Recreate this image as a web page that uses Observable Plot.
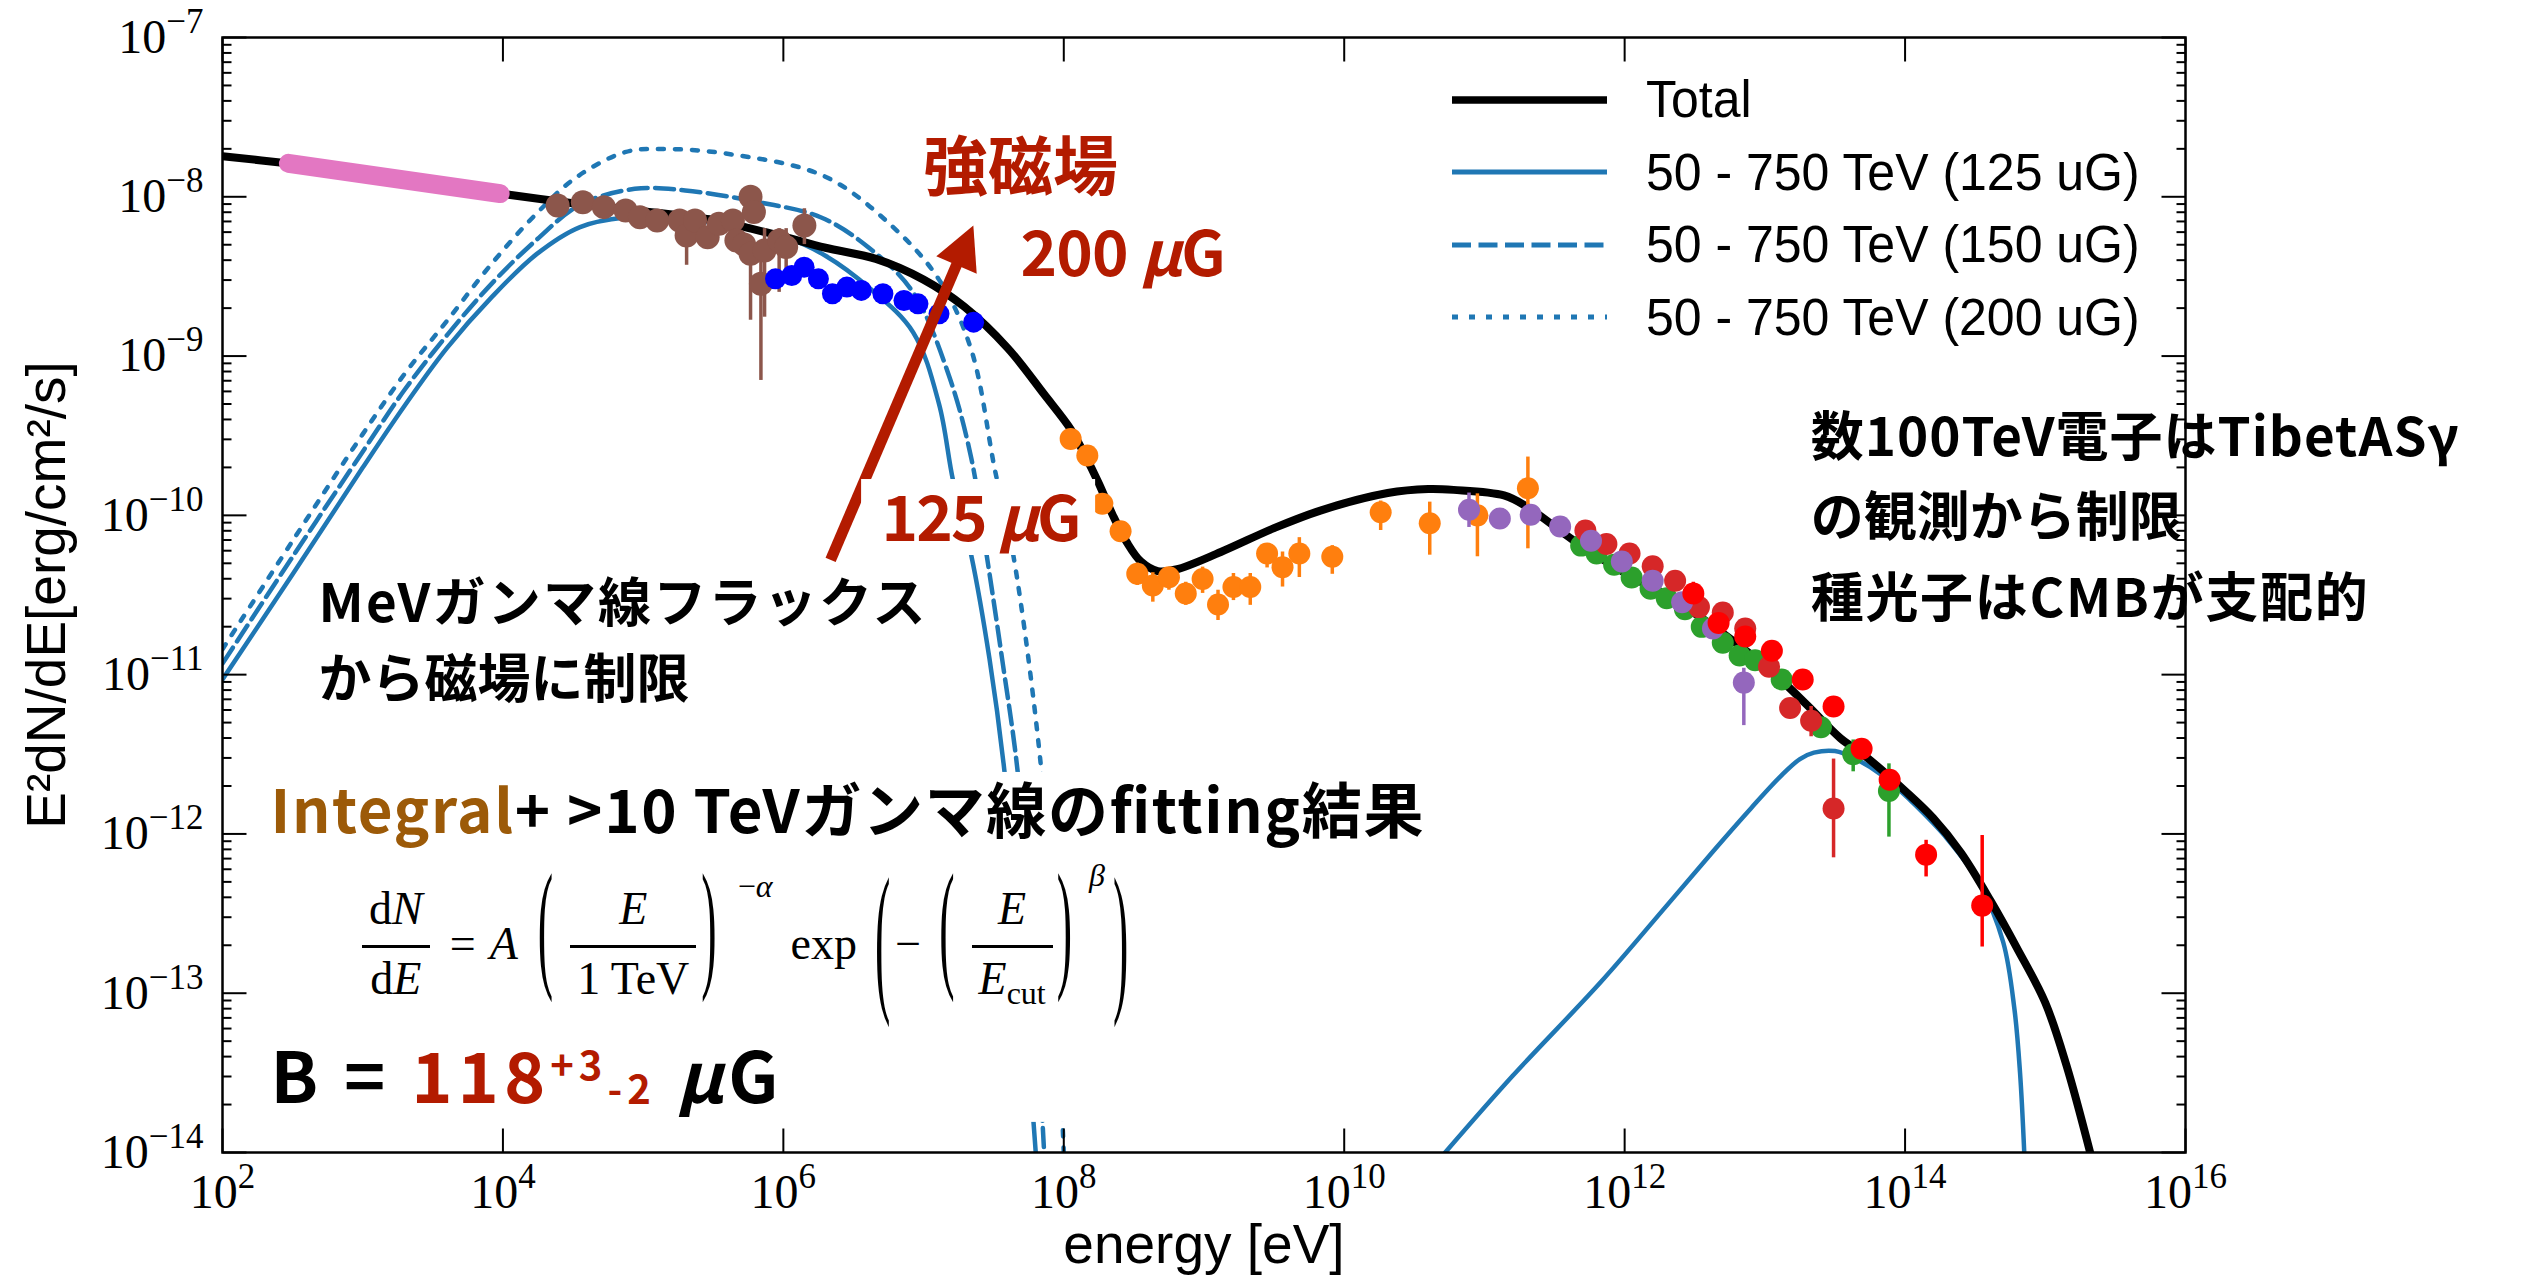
<!DOCTYPE html>
<html><head><meta charset="utf-8">
<script src="https://cdn.jsdelivr.net/npm/d3@7"></script>
<script src="https://cdn.jsdelivr.net/npm/@observablehq/plot@0.6"></script>
<style>
html,body{margin:0;padding:0;background:#fff;}
#wrap{position:relative;width:2525px;height:1281px;overflow:hidden;background:#fff;}
.leg{position:absolute;font-family:"Liberation Sans",Arial,sans-serif;font-size:51px;color:#000;}
.leg .row{position:absolute;left:0;height:72px;display:flex;align-items:center;white-space:nowrap;}
.leg svg{display:block;}
.leg span{display:inline-block;transform-origin:left center;transform:scaleX(0.98);margin-left:39px;}
.eq{position:absolute;display:flex;align-items:center;font-family:"Liberation Serif",serif;font-size:46px;line-height:1;white-space:nowrap;color:#000;}
.eq .fr{display:inline-flex;flex-direction:column;align-items:center;}
.eq .fr>span{display:block;padding:0 7px;}
.eq .fr .bar{align-self:stretch;height:3px;background:#000;margin:13px 0 8px;padding:0;}
.eq .p{display:inline-block;transform:translateY(-19px) scaleY(3.1);}
.eq .P{display:inline-block;transform:translateY(-6px) scaleY(3.6);}
.eq .sup{font-size:32px;position:relative;}
.eq .cut{font-size:32px;position:relative;top:10px;}
</style></head>
<body><div id="wrap"></div>
<script>
// ---------------- DATA (log10 units: [log10 E/eV, log10 E^2dN/dE]) ----------------
const totalModel = [[2.0,-7.745],[2.46,-7.79],[3.0,-7.85],[3.5,-7.92],[3.98,-7.98],[4.5,-8.04],[5.0,-8.09],[5.5,-8.145],[5.77,-8.20],[6.0,-8.25],[6.3,-8.32],[6.66,-8.39],[7.0,-8.52],[7.29,-8.69],[7.6,-8.95],[7.86,-9.24],[8.05,-9.46],[8.15,-9.62],[8.25,-9.80],[8.35,-10.0],[8.45,-10.17],[8.55,-10.29],[8.67,-10.35],[8.8,-10.34],[9.12,-10.23],[9.5,-10.08],[9.83,-9.97],[10.31,-9.86],[10.6,-9.835],[10.78,-9.84],[11.14,-9.875],[11.31,-9.95],[11.64,-10.16],[12.0,-10.36],[12.35,-10.53],[12.7,-10.74],[13.06,-10.99],[13.3,-11.19],[13.54,-11.40],[13.7,-11.50],[14.0,-11.73],[14.2,-11.90],[14.4,-12.12],[14.61,-12.42],[14.8,-12.72],[15.0,-13.06],[15.15,-13.45],[15.32,-14.0]];
const sync125uG = [[2.0,-11.03],[2.5,-10.37],[3.0,-9.70],[3.3,-9.31],[3.6,-8.95],[3.92,-8.63],[4.24,-8.36],[4.55,-8.19],[4.87,-8.13],[5.2,-8.13],[5.6,-8.18],[6.03,-8.26],[6.3,-8.37],[6.61,-8.57],[6.925,-8.85],[7.11,-9.30],[7.21,-9.78],[7.34,-10.25],[7.47,-10.90],[7.576,-11.6],[7.68,-12.6],[7.80,-14.0]];
const sync150uG = [[2.0,-10.93],[2.5,-10.26],[3.0,-9.60],[3.3,-9.21],[3.6,-8.87],[3.92,-8.545],[4.24,-8.27],[4.55,-8.05],[4.94,-7.95],[5.3,-7.96],[5.8,-8.03],[6.27,-8.13],[6.61,-8.32],[6.925,-8.60],[7.18,-9.12],[7.34,-9.64],[7.45,-10.25],[7.56,-10.9],[7.67,-11.6],[7.77,-12.65],[7.86,-14.0]];
const sync200uG = [[2.0,-10.84],[2.5,-10.16],[3.0,-9.49],[3.3,-9.11],[3.6,-8.78],[3.92,-8.42],[4.24,-8.105],[4.52,-7.88],[4.87,-7.72],[5.13,-7.70],[5.6,-7.73],[6.29,-7.87],[6.77,-8.18],[7.11,-8.52],[7.34,-8.96],[7.51,-9.72],[7.64,-10.25],[7.84,-11.6],[7.93,-12.7],[8.0,-14.0]];
const ic125uG = [[10.72,-14.0],[11.2,-13.52],[11.83,-12.93],[12.3,-12.45],[12.63,-12.11],[12.9,-11.84],[13.11,-11.64],[13.25,-11.53],[13.35,-11.49],[13.5,-11.48],[13.65,-11.53],[13.85,-11.64],[14.05,-11.80],[14.3,-12.03],[14.53,-12.31],[14.7,-12.68],[14.78,-13.1],[14.82,-13.5],[14.85,-14.0]];
const integralFit = [[2.47,-7.79],[3.98,-7.98]];
// points: [log10 E, log10 F, log10 errLow, log10 errHigh]
const brownPts = [[4.39,-8.055],[4.57,-8.034],[4.72,-8.065],[4.875,-8.086],[4.977,-8.128],[5.10,-8.149],[5.26,-8.149],[5.31,-8.243,-8.43,-8.10],[5.37,-8.149],[5.46,-8.254],[5.54,-8.17],[5.64,-8.149],[5.665,-8.274],[5.72,-8.30],[5.766,-8.0,-8.08,-7.95],[5.79,-8.096],[5.766,-8.358,-8.775,-8.274],[5.84,-8.546,-9.153,-8.35],[5.866,-8.337,-8.756,-8.2],[5.97,-8.274,-8.6,-8.2],[6.02,-8.316,-8.45,-8.2],[6.15,-8.18,-8.30,-8.075]];
const bluePts = [[5.944,-8.515],[6.06,-8.494],[6.148,-8.442],[6.25,-8.515],[6.35,-8.609],[6.453,-8.567],[6.556,-8.588],[6.71,-8.609],[6.86,-8.651],[6.96,-8.672],[7.11,-8.735],[7.357,-8.787]];
const orangePts = [[8.049,-9.52],[8.168,-9.624],[8.275,-9.927],[8.405,-10.10],[8.524,-10.367,-10.44,-10.30],[8.635,-10.44,-10.545,-10.36],[8.75,-10.388,-10.47,-10.346],[8.87,-10.49,-10.565,-10.42],[8.99,-10.40,-10.49,-10.325],[9.10,-10.56,-10.66,-10.47],[9.21,-10.45,-10.535,-10.365],[9.33,-10.45,-10.565,-10.365],[9.45,-10.24,-10.33,-10.18],[9.56,-10.325,-10.45,-10.23],[9.68,-10.24,-10.39,-10.14],[9.915,-10.26,-10.37,-10.19],[10.26,-9.98,-10.095,-9.91],[10.61,-10.05,-10.25,-9.917],[10.95,-10.0,-10.26,-9.865],[11.31,-9.83,-10.21,-9.634]];
const purplePts = [[10.89,-9.965,-10.076,-9.86],[11.11,-10.02],[11.33,-9.996],[11.54,-10.07],[11.76,-10.16],[11.98,-10.29],[12.20,-10.41],[12.41,-10.545],[12.63,-10.71],[12.85,-11.05,-11.32,-10.96]];
const greenPts = [[11.69,-10.19],[11.80,-10.24],[11.925,-10.31],[12.05,-10.39],[12.185,-10.46],[12.30,-10.52],[12.43,-10.59],[12.55,-10.70],[12.70,-10.80],[12.82,-10.88],[12.93,-10.91],[13.12,-11.03],[13.40,-11.33],[13.63,-11.50,-11.61,-11.41],[13.885,-11.73,-12.02,-11.56]];
const darkRedPts = [[11.72,-10.095],[11.87,-10.18],[12.035,-10.24],[12.20,-10.32],[12.36,-10.41],[12.53,-10.576],[12.70,-10.61],[12.86,-10.71],[13.03,-10.95],[13.18,-11.21],[13.33,-11.29,-11.39,-11.20],[13.49,-11.84,-12.15,-11.53]];
const redPts = [[12.49,-10.49,-10.55,-10.42],[12.67,-10.675],[12.86,-10.76],[13.05,-10.85],[13.27,-11.03],[13.49,-11.20],[13.69,-11.465],[13.89,-11.66],[14.15,-12.13,-12.27,-12.04],[14.55,-12.45,-12.71,-12.01]];
const xTickExps = [2,4,6,8,10,12,14,16];
const yTickExps = [-14,-13,-12,-11,-10,-9,-8,-7];
const yMinorMantissas = [2,3,4,5,6,7,8,9];
const legendLabels = ["Total","50 - 750 TeV (125 uG)","50 - 750 TeV (150 uG)","50 - 750 TeV (200 uG)"];
const arrowFrom = [6.337,-10.28], arrowTo = [7.355,-8.18];

// ---------------- STYLE / LAYOUT ----------------
const W = 2525, H = 1281, mL = 222, mR = 340, mT = 37, mB = 129;
const C = {model:"#1f77b4", brown:"#8c564b", blue:"#0000ff", orange:"#ff7f0e", purple:"#9467bd", green:"#2ca02c", darkred:"#d62728", red:"#ff0000", pink:"#e377c2", note:"#b31b00", integral:"#9c5a08"};
const JP = "'Noto Sans CJK JP','Noto Sans',sans-serif";
const P10 = v => Math.pow(10, v);
const toXY = a => a.map(([e,f]) => ({x:P10(e), y:P10(f)}));
const toPts = a => a.map(([e,f,lo,hi]) => ({x:P10(e), y:P10(f), lo: lo==null?null:P10(lo), hi: hi==null?(lo==null?null:P10(2*f-lo)):P10(hi)}));
function pointMarks(arr, color, r) {
  const d = toPts(arr);
  return [
    Plot.ruleX(d.filter(p => p.lo != null), {x:"x", y1:"lo", y2:"hi", stroke: color, strokeWidth: 3.5}),
    Plot.dot(d, {x:"x", y:"y", r, fill: color})
  ];
}
const tickSym = (dx, dy) => ({draw(ctx, size){ const l = Math.sqrt(size/Math.PI); ctx.moveTo(0,0); ctx.lineTo(dx*l, dy*l); }});
const yMinor = yTickExps.slice(0,-1).flatMap(e => yMinorMantissas.map(m => m*P10(e)));
const sup = e => String(e).replace("-","−");

// arrow geometry in pixel space, from scales equivalent to the plot's
const xs = d3.scaleLog([1e2,1e16],[mL, W-mR]), ys = d3.scaleLog([1e-14,1e-7],[H-mB, mT]);
const A0 = [xs(P10(arrowFrom[0])), ys(P10(arrowFrom[1]))], A1 = [xs(P10(arrowTo[0])), ys(P10(arrowTo[1]))];
const aLen = Math.hypot(A1[0]-A0[0], A1[1]-A0[1]), ux = (A1[0]-A0[0])/aLen, uy = (A1[1]-A0[1])/aLen;
const headLen = 43, headW = 44;
const base = [A1[0]-ux*headLen, A1[1]-uy*headLen];
const angle = Math.atan2(ux, -uy)*180/Math.PI;
const headSym = {draw(ctx){ ctx.moveTo(0,-headLen); ctx.lineTo(headW/2,0); ctx.lineTo(-headW/2,0); ctx.closePath(); }};
const arrowShaft = [{x1:P10(arrowFrom[0]), y1:P10(arrowFrom[1]), x2:xs.invert(base[0]+ux*4), y2:ys.invert(base[1]+uy*4)}];
const arrowHead = [{x:xs.invert(base[0]), y:ys.invert(base[1])}];

// white label boxes (data space)
const boxes = [
  {x1:P10(6.558), x2:P10(8.227), y1:P10(-9.775), y2:P10(-10.252)},
  {x1:P10(2.235), x2:P10(10.616), y1:P10(-11.614), y2:P10(-13.811)}
];
// annotation texts (anchor = start of baseline)
const redNotes = [{x:P10(7.692), y:P10(-8.50), t:"200μG"}, {x:P10(6.70), y:P10(-10.158), t:"125μG"}];
const mevNote = [{x:P10(2.685), y:P10(-10.672), t:"MeVガンマ線フラックス"}, {x:P10(2.685), y:P10(-11.149), t:"から磁場に制限"}];
const tibetNote = [{x:P10(13.327), y:P10(-9.630), t:"数100TeV電子はTibetASγ"}, {x:P10(13.327), y:P10(-10.132), t:"の観測から制限"}, {x:P10(13.327), y:P10(-10.635), t:"種光子はCMBが支配的"}];
const fitNote = [{x:P10(2.342), y:P10(-11.997), t:"Integral+ >10 TeVガンマ線のfitting結果"}];
const bNote = [{x:P10(2.342), y:P10(-13.692), t:"B = 118+3-2 μG"}];

const txt = (data, o) => Plot.text(data, {x:"x", y:"y", text:"t", textAnchor:"start", lineAnchor:"bottom", fontFamily:JP, fontWeight:700, ...o});

const plot = Plot.plot({
  width: W, height: H, marginLeft: mL, marginRight: mR, marginTop: mT, marginBottom: mB,
  x: {type:"log", domain:[1e2,1e16], axis:null},
  y: {type:"log", domain:[1e-14,1e-7], axis:null},
  style: {background:"white", fontFamily:"'Liberation Sans',sans-serif", overflow:"visible"},
  marks: [
    Plot.line(toXY(sync125uG), {x:"x", y:"y", stroke:C.model, strokeWidth:4.5, curve:"catmull-rom", clip:true}),
    Plot.line(toXY(sync150uG), {x:"x", y:"y", stroke:C.model, strokeWidth:4.5, strokeDasharray:"19,7.5", curve:"catmull-rom", clip:true}),
    Plot.line(toXY(sync200uG), {x:"x", y:"y", stroke:C.model, strokeWidth:4.5, strokeDasharray:"6,11", curve:"catmull-rom", clip:true}),
    Plot.line(toXY(ic125uG), {x:"x", y:"y", stroke:C.model, strokeWidth:4.5, curve:"catmull-rom", clip:true}),
    Plot.line(toXY(totalModel), {x:"x", y:"y", stroke:"black", strokeWidth:8, curve:"catmull-rom", clip:true}),
    Plot.line(toXY(integralFit), {x:"x", y:"y", stroke:C.pink, strokeWidth:19, strokeLinecap:"round"}),
    ...pointMarks(brownPts, C.brown, 12),
    ...pointMarks(bluePts, C.blue, 10.5),
    ...pointMarks(orangePts, C.orange, 11),
    ...pointMarks(greenPts, C.green, 11),
    ...pointMarks(darkRedPts, C.darkred, 11),
    ...pointMarks(purplePts, C.purple, 11),
    ...pointMarks(redPts, C.red, 11),
    Plot.link(arrowShaft, {x1:"x1", y1:"y1", x2:"x2", y2:"y2", stroke:C.note, strokeWidth:11}),
    Plot.dot(arrowHead, {x:"x", y:"y", symbol:headSym, rotate:angle, r:10, fill:C.note, stroke:"none"}),
    Plot.rect(boxes, {x1:"x1", x2:"x2", y1:"y1", y2:"y2", fill:"white"}),
    // annotations
    txt([{x:P10(7.692), y:P10(-7.957), t:"強磁場"}], {textAnchor:"middle", fontSize:65, fill:C.note}),
    txt(redNotes, {fontSize:62, fill:C.note}),
    txt(mevNote, {fontSize:53, fill:"black"}),
    txt(tibetNote, {fontSize:53, fill:"black"}),
    txt(fitNote, {fontSize:60, fill:"black"}),
    txt(bNote, {fontSize:70, fill:"black"}),
    // ticks
    Plot.dot(yTickExps.map(P10), {y:d=>d, frameAnchor:"left", symbol:tickSym(1,0), r:24, stroke:"black", strokeWidth:2, fill:"none"}),
    Plot.dot(yMinor, {y:d=>d, frameAnchor:"left", symbol:tickSym(1,0), r:9, stroke:"black", strokeWidth:2, fill:"none"}),
    Plot.dot(yTickExps.map(P10), {y:d=>d, frameAnchor:"right", symbol:tickSym(-1,0), r:24, stroke:"black", strokeWidth:2, fill:"none"}),
    Plot.dot(yMinor, {y:d=>d, frameAnchor:"right", symbol:tickSym(-1,0), r:9, stroke:"black", strokeWidth:2, fill:"none"}),
    Plot.dot(xTickExps.map(P10), {x:d=>d, frameAnchor:"bottom", symbol:tickSym(0,-1), r:24, stroke:"black", strokeWidth:2, fill:"none"}),
    Plot.dot(xTickExps.map(P10), {x:d=>d, frameAnchor:"top", symbol:tickSym(0,1), r:24, stroke:"black", strokeWidth:2, fill:"none"}),
    Plot.text(yTickExps, {y:d=>P10(d), frameAnchor:"left", dx:-19, textAnchor:"end", lineAnchor:"middle", text:d=>"10^"+sup(d), fontSize:48, fontFamily:"'Liberation Serif',serif", fill:"black"}),
    Plot.text(xTickExps, {x:d=>P10(d), frameAnchor:"bottom", dy:21, textAnchor:"middle", lineAnchor:"top", text:d=>"10^"+sup(d), fontSize:48, fontFamily:"'Liberation Serif',serif", fill:"black"}),
    Plot.text(["energy [eV]"], {frameAnchor:"bottom", dy:110, textAnchor:"middle", lineAnchor:"bottom", text:d=>d, fontSize:55, fontFamily:"'Liberation Sans',sans-serif", fill:"black"}),
    Plot.text(["E²dN/dE[erg/cm²/s]"], {frameAnchor:"left", dx:-175, rotate:-90, textAnchor:"middle", lineAnchor:"middle", text:d=>d, fontSize:55, fontFamily:"'Liberation Sans',sans-serif", fill:"black"}),
    Plot.frame({stroke:"black", strokeWidth:2.5})
  ]
});
const wrap = document.getElementById("wrap");
wrap.appendChild(plot);

// rich text (coloured runs, super/subscripts) and target run widths
const rich = {
  "Integral+ >10 TeVガンマ線のfitting結果": [{t:"Integral", fill:C.integral}, {t:"+ >10 TeVガンマ線のfitting結果"}],
  "B = 118+3-2 μG": [{t:"B = "}, {t:"118", fill:C.note}, {t:"+3", fill:C.note, size:40, dy:-23}, {t:"-2", fill:C.note, size:40, dy:24}, {t:" ", dy:-1}, {t:"μ", style:"italic"}, {t:"G"}],
  "200μG": [{t:"200 "}, {t:"μ", style:"italic"}, {t:"G"}],
  "125μG": [{t:"125 "}, {t:"μ", style:"italic"}, {t:"G"}]
};
const widths = {"MeVガンマ線フラックス":607, "数100TeV電子はTibetASγ":648, "種光子はCMBが支配的":557, "Integral+ >10 TeVガンマ線のfitting結果":1153, "B = 118+3-2 μG":508, "200μG":205, "125μG":200};
function setRich(t, segs){
  t.textContent = "";
  for (const s of segs) {
    const ts = document.createElementNS("http://www.w3.org/2000/svg","tspan");
    ts.textContent = s.t;
    if (s.fill) ts.setAttribute("fill", s.fill);
    if (s.size) ts.setAttribute("font-size", s.size);
    if (s.dy) ts.setAttribute("dy", s.dy);
    if (s.style) ts.setAttribute("font-style", s.style);
    t.appendChild(ts);
  }
}
plot.querySelectorAll("text").forEach(t => {
  const k = t.textContent;
  if (rich[k]) setRich(t, rich[k]);
  else if (k.startsWith("10^")) setRich(t, [{t:"10"}, {t:k.slice(3), size:35, dy:-20}]);
  if (widths[k]) { t.setAttribute("textLength", widths[k]); t.setAttribute("lengthAdjust", "spacing"); }
});

// legend (inside the frame, top right)
const sx = plot.scale("x"), sy = plot.scale("y");
const legX = sx.apply(P10(10.773)), legY = sy.apply(P10(-7.395));
const leg = document.createElement("div"); leg.className = "leg";
leg.style.left = legX + "px"; leg.style.top = (legY - 36) + "px";
const legStyles = [{s:"#000", w:7.5, d:""}, {s:C.model, w:5, d:""}, {s:C.model, w:5, d:"19,7.5"}, {s:C.model, w:5, d:"6,11"}];
legendLabels.forEach((lab, i) => {
  const row = document.createElement("div"); row.className = "row"; row.style.top = (i*72.5) + "px";
  const st = legStyles[i];
  row.innerHTML = `<svg width="155" height="20"><line x1="0" y1="10" x2="155" y2="10" stroke="${st.s}" stroke-width="${st.w}" ${st.d?`stroke-dasharray="${st.d}"`:""}/></svg><span>${lab}</span>`;
  leg.appendChild(row);
});
wrap.appendChild(leg);

// equation (typeset in HTML, anchored through the plot scales)
const eq = document.createElement("div"); eq.className = "eq";
eq.innerHTML = `
<span class="fr"><span>d<i>N</i></span><span class="bar"></span><span>d<i>E</i></span></span>
<span style="margin-left:20px">=</span>
<i style="margin-left:14px">A</i>
<span class="p" style="margin-left:20px">(</span>
<span class="fr" style="margin-left:17px"><span><i>E</i></span><span class="bar"></span><span>1 TeV</span></span>
<span class="p" style="margin-left:5px">)</span>
<span class="sup" style="margin-left:21px;top:-58px">−<i>α</i></span>
<span style="margin-left:18px">exp</span>
<span class="P" style="margin-left:18px">(</span>
<span style="margin-left:5px">−</span>
<span class="p" style="margin-left:18px">(</span>
<span class="fr" style="margin-left:17px"><span><i>E</i></span><span class="bar"></span><span><i>E</i><span class="cut">cut</span></span></span>
<span class="p" style="margin-left:4px">)</span>
<span class="sup" style="margin-left:17px;top:-69px"><i>β</i></span>
<span class="P" style="margin-left:8px">)</span>`;
eq.style.left = sx.apply(P10(2.999)) + "px";
eq.style.top = (sy.apply(P10(-12.712)) - 60.5) + "px";
wrap.appendChild(eq);
</script></body></html>
